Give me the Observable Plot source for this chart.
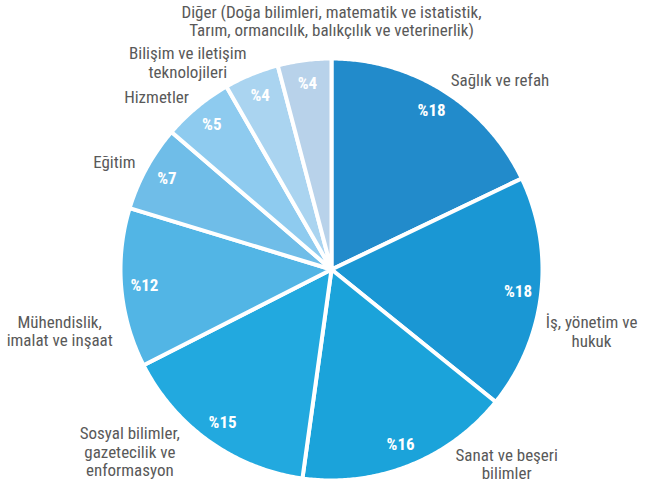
<!DOCTYPE html>
<html>
<head>
<meta charset="utf-8">
<script src="https://cdn.jsdelivr.net/npm/d3@7"></script>
<script src="https://cdn.jsdelivr.net/npm/@observablehq/plot@0.6"></script>
<style>
  html, body { margin: 0; padding: 0; background: #fff; }
  #chart svg { display: block; }
</style>
</head>
<body>
<div id="chart"></div>
<script>
const categories = [
  "Sağlık ve refah",
  "İş, yönetim ve\nhukuk",
  "Sanat ve beşeri\nbilimler",
  "Sosyal bilimler,\ngazetecilik ve\nenformasyon",
  "Mühendislik,\nimalat ve inşaat",
  "Eğitim",
  "Hizmetler",
  "Bilişim ve iletişim\nteknolojileri",
  "Diğer (Doğa bilimleri, matematik ve istatistik,\nTarım, ormancılık, balıkçılık ve veterinerlik)"
];
const values = [17.9, 17.9, 16.4, 15.3, 12.2, 6.6, 5.4, 4.2, 4.1];
const valueLabels = ["%18", "%18", "%16", "%15", "%12", "%7", "%5", "%4", "%4"];
const colors = ["#228bcb", "#1a97d4", "#1ba3da", "#22a9df", "#52b5e5", "#6fbde8", "#8ecbef", "#aad4f0", "#b8d2ea"];

const W = 651, H = 485, CX = 331, CY = 269, R = 211;
const FS = 17, LH = 1.08;
const font = "'Liberation Sans Narrow', 'Arial Narrow', 'Roboto Condensed', 'Liberation Sans', sans-serif";

const ctx = document.createElement("canvas").getContext("2d");
ctx.font = `${FS}px ${font}`;
const blockWidth = t => d3.max(t.split("\n"), l => ctx.measureText(l).width);

const arcs = d3.pie().sort(null).value(d => d)(values);

// polygon points for each slice (center -> arc -> center), in unit-radius coords
const slicePts = [];
arcs.forEach((a, i) => {
  const n = Math.max(2, Math.ceil((a.endAngle - a.startAngle) / (Math.PI / 360)));
  slicePts.push({k: i, x: 0, y: 0, c: colors[i]});
  for (let j = 0; j <= n; j++) {
    const t = a.startAngle + (a.endAngle - a.startAngle) * j / n;
    slicePts.push({k: i, x: Math.sin(t), y: Math.cos(t), c: colors[i]});
  }
  slicePts.push({k: i, x: 0, y: 0, c: colors[i]});
});

const inner = arcs.map((a, i) => {
  const m = (a.startAngle + a.endAngle) / 2;
  return {x: 0.89 * Math.sin(m), y: 0.89 * Math.cos(m), t: valueLabels[i]};
});

// outside labels: anchored along the slice's mid-angle, kept inside the frame and off the pie,
// lines centred within the block
const outer = arcs.map((a, i) => {
  const m = (a.startAngle + a.endAngle) / 2;
  const s = Math.sin(m), c = Math.cos(m);
  const lines = categories[i].split("\n").length;
  const half = lines * FS * LH / 2;
  const side = s > 0.15 ? "start" : s < -0.15 ? "end" : "middle";
  const horiz = Math.abs(c) < 0.2;
  let x = 1.06 * s, y = 1.06 * c;
  const minY = -(H - CY - half - 3) / R;
  if (y < minY) y = minY;
  if (c < -0.5 && side !== "middle") {
    const py = CY - R * y;
    const near = Math.max(0, Math.min(Math.abs(py - half - CY), Math.abs(py + half - CY)));
    const hw = Math.sqrt(Math.max(0, R * R - near * near)) + 8;
    if (side === "start") x = Math.max(x, hw / R);
    else x = Math.min(x, -hw / R);
  }
  let px = CX + R * x, py = CY - R * y;
  if (horiz) { px += side === "start" ? -8 : 4; py += side === "start" ? 36 : 42; }
  const w = blockWidth(categories[i]);
  if (side === "start") px += w / 2;
  else if (side === "end") px -= w / 2;
  else { px = CX; py -= 8 + half; }
  return {x: (px - CX) / R, y: (CY - py) / R, t: categories[i]};
});

const chart = Plot.plot({
  width: W, height: H,
  margin: 0,
  x: {domain: [-CX / R, (W - CX) / R], range: [0, W], axis: null},
  y: {domain: [-(H - CY) / R, CY / R], range: [H, 0], axis: null},
  style: {fontFamily: font, background: "white"},
  marks: [
    Plot.line(slicePts, {x: "x", y: "y", z: "k", fill: "c", stroke: "white", strokeWidth: 4, strokeLinejoin: "round"}),
    Plot.text(inner, {x: "x", y: "y", text: "t", fill: "white", fontWeight: "bold", fontSize: 17, fontFamily: font}),
    Plot.text(outer, {x: "x", y: "y", text: "t", textAnchor: "middle", lineAnchor: "middle",
      fontSize: FS, fill: "#595959", lineHeight: LH, fontFamily: font})
  ]
});
document.getElementById("chart").appendChild(chart);
</script>
</body>
</html>
